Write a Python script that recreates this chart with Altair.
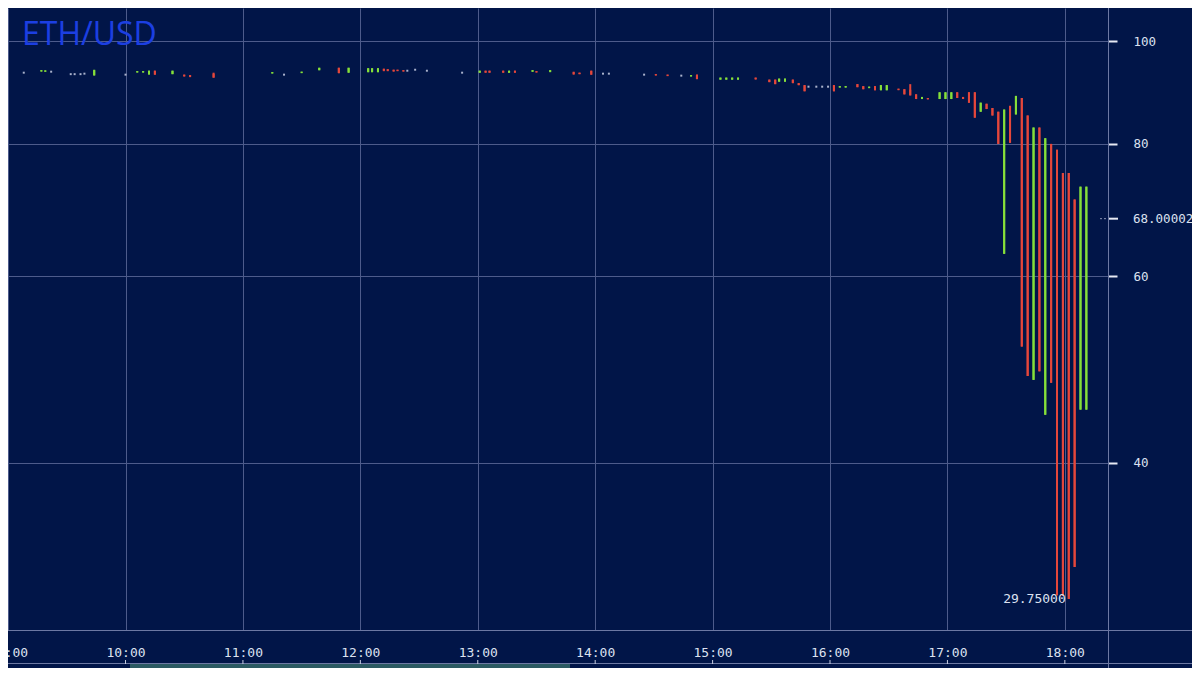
import altair as alt
import pandas as pd

# ---------------- data ----------------
title_text = "ETH/USD"

times = [
    "09:08", "09:17", "09:19", "09:22", "09:32", "09:34", "09:37", "09:39", "09:44",
    "10:00", "10:06", "10:09", "10:12", "10:15", "10:24", "10:30", "10:33", "10:45",
    "11:15", "11:21", "11:30", "11:39", "11:49", "11:54",
    "12:04", "12:06", "12:09", "12:12", "12:14", "12:17", "12:19", "12:22", "12:24",
    "12:28", "12:34", "12:52",
    "13:01", "13:04", "13:06", "13:13", "13:16", "13:19", "13:28", "13:30", "13:37",
    "13:49", "13:52", "13:58",
    "14:04", "14:07", "14:25", "14:31", "14:37", "14:44", "14:49", "14:52",
    "15:04", "15:07", "15:10", "15:13", "15:22", "15:29", "15:32", "15:34", "15:37",
    "15:41", "15:44", "15:47", "15:49", "15:53", "15:56", "15:59",
    "16:02", "16:05", "16:08", "16:14", "16:17", "16:20", "16:23", "16:26", "16:29",
    "16:35", "16:38", "16:41", "16:44", "16:47", "16:50", "16:56", "16:59",
    "17:02", "17:05", "17:08", "17:11", "17:14", "17:17", "17:20", "17:23", "17:26",
    "17:29", "17:32", "17:35", "17:38", "17:41", "17:44", "17:47", "17:50", "17:53",
    "17:56", "17:59", "18:02", "18:05", "18:08", "18:11",
]
opens = [
    93.4, 93.7, 93.6, 93.6, 93.1, 93.1, 93.1, 93.2, 92.9,
    93.0, 93.5, 93.5, 93.1, 93.8, 93.1, 93.0, 92.9, 93.2,
    93.3, 93.0, 93.4, 93.9, 94.4, 93.4,
    93.5, 93.5, 93.5, 94.2, 94.1, 94.0, 94.0, 93.9, 93.8,
    94.0, 93.8, 93.4,
    93.4, 93.8, 93.8, 93.8, 93.4, 93.8, 93.6, 93.7, 93.6,
    93.5, 93.4, 93.8,
    93.2, 93.2, 93.0, 93.1, 93.0, 92.8, 92.7, 93.0,
    92.0, 92.0, 92.0, 92.0, 92.4, 92.0, 92.0, 91.6, 91.6,
    92.0, 91.3, 90.9, 90.6, 90.6, 90.6, 90.6,
    90.9, 90.5, 90.5, 91.1, 90.7, 90.4, 90.7, 89.9, 89.9,
    90.2, 90.1, 90.0, 89.1, 88.2, 88.4, 88.2, 88.2,
    88.2, 89.5, 88.6, 89.5, 89.5, 85.8, 87.3, 86.5, 85.8,
    63.0, 86.9, 85.3, 88.4, 85.1, 47.9, 82.9, 44.4, 80.0,
    79.0, 75.1, 75.1, 70.9, 44.9, 44.9,
]
highs = [
    93.6, 93.9, 93.9, 93.8, 93.3, 93.3, 93.3, 93.4, 94.0,
    93.2, 93.7, 93.7, 93.8, 93.8, 93.8, 93.0, 92.9, 93.4,
    93.5, 93.2, 93.6, 94.4, 94.4, 94.4,
    94.3, 94.3, 94.3, 94.2, 94.1, 94.0, 94.0, 93.9, 94.0,
    94.2, 94.0, 93.6,
    93.8, 93.8, 93.8, 93.8, 93.8, 93.8, 93.9, 93.7, 93.9,
    93.6, 93.4, 93.8,
    93.4, 93.4, 93.2, 93.1, 93.0, 93.0, 92.9, 93.0,
    92.4, 92.4, 92.4, 92.4, 92.4, 92.0, 92.0, 92.2, 92.2,
    92.0, 91.3, 90.9, 90.8, 90.8, 90.8, 90.8,
    90.9, 90.7, 90.7, 91.1, 90.7, 90.6, 90.7, 90.9, 90.9,
    90.2, 90.1, 91.1, 89.1, 88.6, 88.4, 89.5, 89.5,
    89.5, 89.5, 88.6, 89.5, 89.5, 87.5, 87.3, 86.5, 85.8,
    86.2, 86.9, 88.8, 88.4, 85.1, 82.9, 82.9, 81.0, 80.0,
    79.0, 75.1, 75.1, 70.9, 72.9, 72.9,
]
lows = [
    93.2, 93.6, 93.6, 93.4, 92.9, 92.9, 92.9, 93.0, 92.8,
    92.8, 93.4, 93.4, 93.0, 93.0, 93.1, 92.6, 92.5, 92.4,
    93.2, 92.8, 93.3, 93.9, 93.3, 93.4,
    93.5, 93.5, 93.5, 93.7, 93.7, 93.6, 93.7, 93.6, 93.6,
    93.8, 93.6, 93.2,
    93.4, 93.4, 93.4, 93.4, 93.4, 93.4, 93.6, 93.4, 93.5,
    93.0, 93.1, 93.0,
    93.0, 93.0, 92.8, 92.8, 92.7, 92.6, 92.6, 92.1,
    92.0, 92.0, 92.0, 92.0, 92.0, 91.5, 91.1, 91.6, 91.6,
    91.3, 90.9, 89.7, 90.4, 90.4, 90.4, 90.4,
    89.7, 90.4, 90.4, 90.5, 90.1, 90.3, 89.9, 89.9, 89.9,
    89.9, 89.1, 88.9, 88.2, 88.2, 88.1, 88.2, 88.2,
    88.2, 88.4, 88.2, 87.5, 84.7, 85.8, 86.3, 85.1, 80.0,
    63.0, 80.2, 85.3, 51.5, 48.3, 47.9, 48.8, 44.4, 47.6,
    30.0, 29.95, 29.75, 31.9, 44.9, 44.9,
]
closes = [
    93.4, 93.9, 93.8, 93.6, 93.1, 93.1, 93.1, 93.2, 93.9,
    93.0, 93.7, 93.7, 93.8, 93.0, 93.8, 92.7, 92.6, 92.4,
    93.5, 93.0, 93.6, 94.4, 93.3, 94.4,
    94.3, 94.3, 94.3, 93.8, 93.8, 93.7, 93.8, 93.7, 93.8,
    94.0, 93.8, 93.4,
    93.8, 93.4, 93.4, 93.4, 93.8, 93.4, 93.9, 93.5, 93.9,
    93.1, 93.1, 93.0,
    93.2, 93.2, 93.0, 92.9, 92.8, 92.8, 92.9, 92.1,
    92.4, 92.4, 92.4, 92.4, 92.1, 91.5, 91.1, 92.2, 92.2,
    91.3, 90.9, 89.7, 90.6, 90.6, 90.6, 90.6,
    89.7, 90.7, 90.7, 90.5, 90.1, 90.6, 89.9, 90.9, 90.9,
    90.0, 89.1, 88.9, 88.2, 88.6, 88.2, 89.5, 89.5,
    89.5, 88.4, 88.2, 87.5, 84.7, 87.5, 86.3, 85.1, 80.0,
    86.2, 80.2, 88.8, 51.5, 48.3, 82.9, 48.8, 81.0, 47.6,
    30.0, 29.95, 29.75, 31.9, 72.9, 72.9,
]

last_price = 68.00002
hour_ticks = [540, 600, 660, 720, 780, 840, 900, 960, 1020, 1080]
price_ticks = [40, 60, 80, 100]

# ---------------- styles ----------------
BG = "#011548"
GRID = "#4d5b8b"
LINE = "#6c78a3"
TXT = "#dce1f0"
GREEN = "#86e03a"
RED = "#e5473b"
GREY = "#aab2cc"
MONO = "DejaVu Sans Mono"

TOTAL_W, TOTAL_H = 1184, 660
W, H = 1100, 622


def to_min(s):
    h, m = s.split(":")
    return int(h) * 60 + int(m)


df = pd.DataFrame({
    "time": times,
    "t": [to_min(s) for s in times],
    "open": opens, "high": highs, "low": lows, "close": closes,
})
df["dir"] = ["up" if c > o else ("down" if c < o else "flat") for o, c in zip(opens, closes)]

xs = alt.Scale(domain=[542.5, 1099.5], nice=False, zero=False)
ys = alt.Scale(type="log", domain=[27.81, 107.5], nice=False, zero=False)
col = alt.Color("dir:N", scale=alt.Scale(domain=["up", "down", "flat"], range=[GREEN, RED, GREY]), legend=None)

x_axis = alt.Axis(
    values=hour_ticks, title=None, grid=True, gridColor=GRID, gridWidth=1,
    domain=True, domainColor=LINE, ticks=False, labelPadding=16,
    labelFont=MONO, labelFontSize=13, labelColor=TXT, labelFlush=False,
    labelBound=False, labelOverlap=False,
    labelExpr="(datum.value < 600 ? '0' : '') + floor(datum.value / 60) + ':00'",
)
y_axis = alt.Axis(
    orient="right", values=price_ticks, title=None, grid=True, gridColor=GRID, gridWidth=1,
    domain=True, domainColor=LINE, ticks=True, tickSize=9, tickColor="#e6e9f3", tickWidth=2,
    labelPadding=16, labelFont=MONO, labelFontSize=12.5, labelColor=TXT, format="d",
)

candles = alt.Chart(df).mark_rule(strokeWidth=2).encode(
    x=alt.X("t:Q", scale=xs, axis=x_axis),
    y=alt.Y("low:Q", scale=ys, axis=y_axis),
    y2="high:Q",
    color=col,
)
bodies = alt.Chart(df).mark_bar(size=2).encode(
    x=alt.X("t:Q", scale=xs),
    y=alt.Y("open:Q", scale=ys),
    y2="close:Q",
    color=col,
)

imin = lows.index(min(lows))
low_df = pd.DataFrame({"t": [to_min(times[imin])], "low": [lows[imin]], "txt": [f"{lows[imin]:.5f}"]})
low_label = alt.Chart(low_df).mark_text(
    align="right", baseline="middle", dx=-3, font=MONO, fontSize=13, color=TXT
).encode(x=alt.X("t:Q", scale=xs), y=alt.Y("low:Q", scale=ys), text="txt:N")

lp_df = pd.DataFrame({"p": [last_price], "txt": [f"{last_price:.5f}"]})
lp_tick = alt.Chart(lp_df).mark_rule(color="#e6e9f3", strokeWidth=2).encode(
    x=alt.value(W + 1), x2=alt.value(W + 10), y=alt.Y("p:Q", scale=ys))
lp_dash = alt.Chart(lp_df).mark_rule(color="#8f98b8", strokeWidth=1, strokeDash=[2, 2]).encode(
    x=alt.value(W - 8), x2=alt.value(W - 1), y=alt.Y("p:Q", scale=ys))
lp_text = alt.Chart(lp_df).mark_text(
    align="left", baseline="middle", font=MONO, fontSize=12.5, color=TXT
).encode(x=alt.value(W + 25), y=alt.Y("p:Q", scale=ys), text="txt:N")

title_df = pd.DataFrame({"s": [title_text]})
title = alt.Chart(title_df).mark_text(
    align="left", baseline="alphabetic", font="Open Sans", fontSize=32, color="#1c3fe2"
).encode(x=alt.value(14), y=alt.value(37), text="s:N")

frame_df = pd.DataFrame({"k": [1]})
hline = alt.Chart(frame_df).mark_rule(color=LINE, strokeWidth=1).encode(
    x=alt.value(0), x2=alt.value(TOTAL_W), y=alt.value(H + 0.5))
vline = alt.Chart(frame_df).mark_rule(color=LINE, strokeWidth=1).encode(
    x=alt.value(W + 0.5), y=alt.value(0), y2=alt.value(TOTAL_H))
bottom_line = alt.Chart(frame_df).mark_rule(color=LINE, strokeWidth=1).encode(
    x=alt.value(0), x2=alt.value(TOTAL_W), y=alt.value(TOTAL_H - 4.5))
scroll = alt.Chart(frame_df).mark_rect(color="#2b5a62").encode(
    x=alt.value(122), x2=alt.value(562), y=alt.value(TOTAL_H - 4), y2=alt.value(TOTAL_H))

ticks_df = pd.DataFrame({"h": hour_ticks[1:]})
small_ticks = alt.Chart(ticks_df).mark_rule(color="#c8cee2", strokeWidth=1).encode(
    x=alt.X("h:Q", scale=xs), y=alt.value(TOTAL_H - 8), y2=alt.value(TOTAL_H - 4))

chart = alt.layer(
    candles, bodies, low_label, lp_dash, lp_tick, lp_text, title,
    hline, vline, bottom_line, scroll, small_ticks,
).properties(
    width=W, height=H,
    autosize=alt.AutoSizeParams(type="none"),
    padding={"left": 0, "top": 0, "right": TOTAL_W - W, "bottom": TOTAL_H - H},
    background=BG,
).configure_view(
    stroke=None, fill=BG,
)

chart.save("out.html", embed_options={"renderer": "svg", "actions": False})
